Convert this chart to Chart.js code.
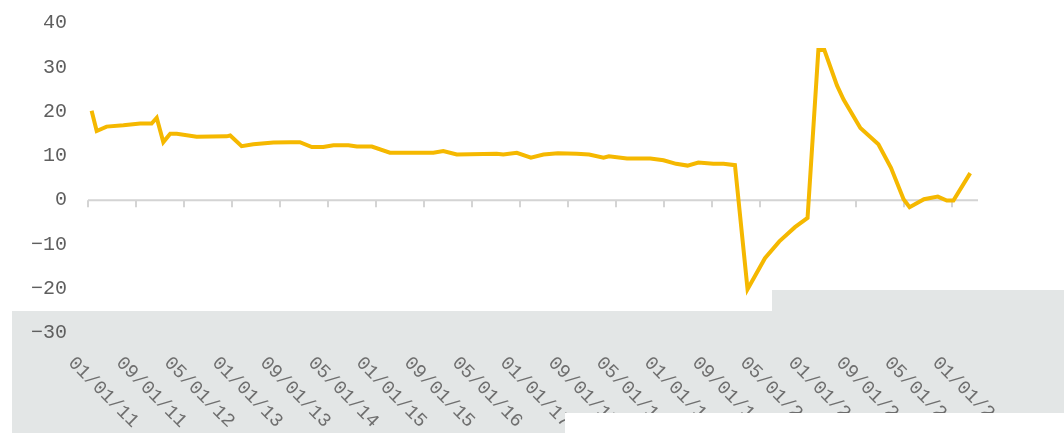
<!DOCTYPE html>
<html lang="en">
<head>
    <meta charset="UTF-8">
    <title>Line chart</title>
    <script src="https://cdn.jsdelivr.net/npm/chart.js"></script>
    <style>
        html, body { margin: 0; padding: 0; background: #ffffff; }
        #wrap { width: 1064px; height: 433px; position: relative; }
    </style>
</head>
<body>
    <div id="wrap"><canvas id="lineChart"></canvas></div>
    <script>
        // months since 01/01/11 (x) and values (y)
        const xMonths = [0.6, 1.45, 3.1, 5.9, 8.7, 10.6, 11.45, 12.55, 13.7, 14.8, 18.1, 23.1, 23.7, 25.6, 27.55, 30.9,
            33.7, 35.3, 37.3, 39.2, 40.9, 43.4, 44.8, 47.3, 50.3, 57.55, 59.2, 61.45, 68.1, 69.2, 71.45, 73.8,
            75.9, 78.3, 81.45, 83.5, 85.9, 86.8, 89.8, 93.7, 95.9, 98.0, 99.9, 101.7, 104.2, 105.9, 107.8,
            109.9, 112.8, 115.2, 117.8, 119.9, 121.7, 122.7, 124.8, 125.9, 128.7, 131.7, 133.8, 135.9, 136.9,
            139.3, 141.6, 143.1, 144.2, 147.0];
        const values = [20.2, 15.6, 16.6, 16.9, 17.3, 17.3, 18.6, 13.1, 15.0, 15.0, 14.3, 14.4, 14.6, 12.2, 12.6, 13.0,
            13.1, 13.1, 12.0, 12.0, 12.4, 12.4, 12.1, 12.1, 10.7, 10.7, 11.1, 10.3, 10.5, 10.3, 10.7, 9.6,
            10.3, 10.6, 10.5, 10.3, 9.6, 9.9, 9.4, 9.4, 9.0, 8.2, 7.8, 8.5, 8.2, 8.2, 7.9,
            -20.1, -13.1, -9.3, -6.1, -4.0, 33.9, 33.9, 25.9, 22.7, 16.3, 12.6, 7.3, 0.2, -1.6,
            0.2, 0.8, -0.1, -0.1, 6.1];
        const tickLabels = ['01/01/11', '09/01/11', '05/01/12', '01/01/13', '09/01/13', '05/01/14', '01/01/15',
            '09/01/15', '05/01/16', '01/01/17', '09/01/17', '05/01/18', '01/01/19', '09/01/19', '05/01/20',
            '01/01/21', '09/01/21', '05/01/22', '01/01/23'];
        const tickStep = 8; // months between labels
        const xMax = 148.3;

        // grey band behind the lower part of the picture
        const backdrop = {
            id: 'backdrop',
            beforeDraw(chart) {
                const ctx = chart.ctx;
                ctx.save();
                ctx.fillStyle = '#e3e6e6';
                ctx.fillRect(12, 311, 1052, 122);
                ctx.fillRect(772, 290, 292, 21);
                ctx.restore();
            }
        };

        // zero line with tick marks hanging under it
        const zeroAxis = {
            id: 'zeroAxis',
            beforeDatasetsDraw(chart) {
                const { ctx, chartArea, scales } = chart;
                const y0 = scales.y.getPixelForValue(0);
                ctx.save();
                ctx.strokeStyle = '#d4d4d4';
                ctx.lineWidth = 2;
                ctx.beginPath();
                ctx.moveTo(chartArea.left, y0);
                ctx.lineTo(chartArea.right, y0);
                tickLabels.forEach((_, i) => {
                    const x = Math.round(scales.x.getPixelForValue(i * tickStep));
                    ctx.moveTo(x, y0);
                    ctx.lineTo(x, y0 + 7);
                });
                ctx.stroke();
                ctx.restore();
            }
        };

        // slanted date labels along the bottom
        const slantLabels = {
            id: 'slantLabels',
            afterDraw(chart) {
                const { ctx, scales } = chart;
                ctx.save();
                ctx.fillStyle = '#6e6e6e';
                ctx.font = '19px "Liberation Mono", monospace';
                ctx.textAlign = 'left';
                ctx.textBaseline = 'middle';
                tickLabels.forEach((label, i) => {
                    const x = scales.x.getPixelForValue(i * tickStep);
                    ctx.save();
                    ctx.translate(x - 17, 360);
                    ctx.rotate(Math.PI / 4);
                    ctx.fillText(label, 0, 0);
                    ctx.restore();
                });
                // white strip cutting off the label ends on the right
                ctx.fillStyle = '#ffffff';
                ctx.fillRect(565, 413, 499, 20);
                ctx.restore();
            }
        };

        const ctx = document.getElementById('lineChart').getContext('2d');
        const chart = new Chart(ctx, {
            type: 'line',
            data: {
                datasets: [{
                    data: xMonths.map((m, i) => ({ x: m, y: values[i] })),
                    borderColor: '#f5b800',
                    borderWidth: 4,
                    pointRadius: 0,
                    tension: 0,
                    fill: false
                }]
            },
            options: {
                responsive: true,
                maintainAspectRatio: false,
                animation: false,
                layout: { padding: { top: 23, right: 86, bottom: 100, left: 0 } },
                scales: {
                    x: {
                        type: 'linear',
                        display: false,
                        min: 0,
                        max: xMax
                    },
                    y: {
                        min: -30,
                        max: 40,
                        afterFit(scale) {
                            scale.width = 88;
                            scale.paddingTop = 0;
                            scale.paddingBottom = 0;
                        },
                        ticks: {
                            stepSize: 10,
                            padding: 21,
                            color: '#5f5f5f',
                            font: { family: '"Liberation Mono", monospace', size: 20 },
                            callback: v => (v < 0 ? '\u2212' + Math.abs(v) : String(v))
                        },
                        grid: { display: false, drawTicks: false },
                        border: { display: false }
                    }
                },
                plugins: {
                    legend: { display: false },
                    tooltip: { enabled: false }
                }
            },
            plugins: [backdrop, zeroAxis, slantLabels]
        });
    </script>
</body>
</html>
